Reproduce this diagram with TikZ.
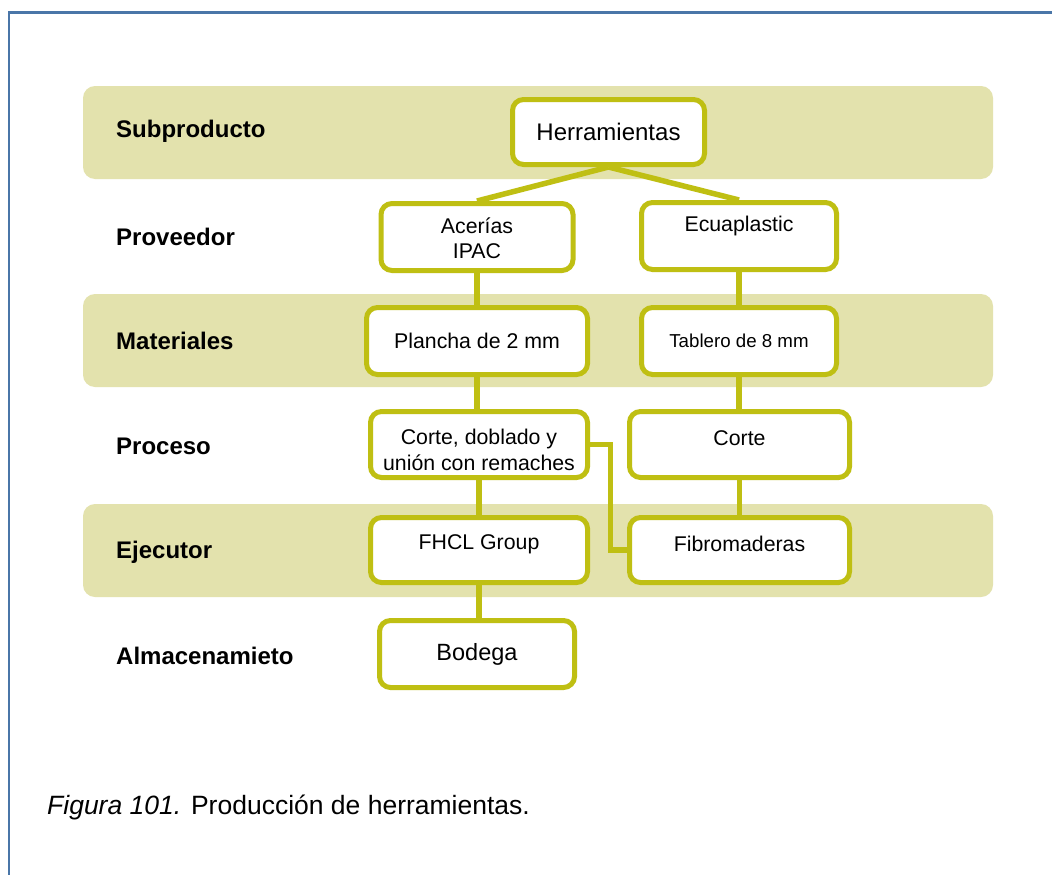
\documentclass[tikz,border=0pt]{standalone}
\usepackage{fontspec}
\setmainfont{Liberation Sans}
\usetikzlibrary{backgrounds}
\definecolor{bandc}{RGB}{227,226,173}
\definecolor{olivec}{RGB}{191,191,19}
\definecolor{framec}{RGB}{74,118,168}
\begin{document}
\begin{tikzpicture}[x=1pt,y=-1pt,
  band/.style={fill=bandc, rounded corners=12pt},
  box/.style={draw=olivec, line width=5pt, fill=white, rounded corners=11pt, inner sep=0pt},
  link/.style={draw=olivec, line width=5.5pt},
  lab/.style={font=\fontsize{24}{28}\selectfont\bfseries, anchor=west, inner sep=0pt},
  txt/.style={font=\fontsize{21.3}{25.5}\selectfont, align=center, inner sep=0pt},
]
\useasboundingbox (0,0) rectangle (1052,875);

% row labels
\node[lab] (l1) at (116,131) {Subproducto};
\node[lab] (l2) at (116,237) {Proveedor};
\node[lab] (l3) at (116,341) {Materiales};
\node[lab] (l4) at (116,446) {Proceso};
\node[lab] (l5) at (116,552) {Ejecutor};
\node[lab] (l6) at (116,656) {Almacenamieto};

% boxes
\node[box, minimum width=192pt, minimum height=65pt, font=\fontsize{24}{28}\selectfont] (herr) at (608.5,132) {Herramientas};
\node[box, minimum width=192pt, minimum height=67pt] (acer) at (477,237) {};
\node[txt] (acert) at (477,238.5) {Acerías\\IPAC};
\node[box, minimum width=195pt, minimum height=67pt] (ecu) at (739,236) {};
\node[txt] (ecut) at (739,226) {Ecuaplastic};
\node[box, minimum width=221pt, minimum height=67pt, txt] (plan) at (477,341) {Plancha de 2 mm};
\node[box, minimum width=195pt, minimum height=67pt, font=\fontsize{18.7}{22}\selectfont] (tab) at (739,341) {Tablero de 8 mm};
\node[box, minimum width=217pt, minimum height=66pt] (cdu) at (479,444.5) {};
\node[txt] (cdut) at (479,450) {Corte, doblado y\\unión con remaches};
\node[box, minimum width=220pt, minimum height=66pt] (cor) at (739.5,444.5) {};
\node[txt] (cort) at (739.5,438) {Corte};
\node[box, minimum width=217pt, minimum height=65pt] (fhcl) at (479,550) {};
\node[txt] (fhclt) at (479,544) {FHCL Group};
\node[box, minimum width=220pt, minimum height=65pt] (fib) at (739.5,550) {};
\node[txt] (fibt) at (739.5,544) {Fibromaderas};
\node[box, minimum width=195pt, minimum height=67pt, font=\fontsize{23.5}{28}\selectfont] (bod) at (477,654) {Bodega};

% caption
\node[anchor=west, inner sep=0pt, font=\fontsize{26.5}{31}\selectfont] (cap) at (47,807) {{\itshape Figura 101.} Producción de herramientas.};

\begin{pgfonlayer}{background}
  \fill[white] (0,0) rectangle (1052,875);
  \draw[framec, line width=2.5pt] (9,875) -- (9,12.5) -- (1052,12.5);
  % shaded rows
  \fill[band] (83,86) rectangle (993,179);
  \fill[band] (83,294) rectangle (993,387);
  \fill[band] (83,504) rectangle (993,597);
  % connectors
  \draw[link] (herr.south) -- (acer.north);
  \draw[link] (herr.south) -- (ecu.north);
  \draw[link] (acer.center) -- (acer.center |- cdu.center);
  \draw[link] (plan.center) -- (plan.center |- cdu.center);
  \draw[link] (cdu.center) -- (cdu.center |- fhcl.center);
  \draw[link] (fhcl.center) -- (fhcl.center |- bod.center);
  \draw[link] (ecu.center) -- (ecu.center |- cor.center);
  \draw[link] (cor.center) -- (cor.center |- fib.center);
  \draw[link] (cdu.east) -- ++(20.5,0) |- (fib.west);
\end{pgfonlayer}
\end{tikzpicture}
\end{document}
